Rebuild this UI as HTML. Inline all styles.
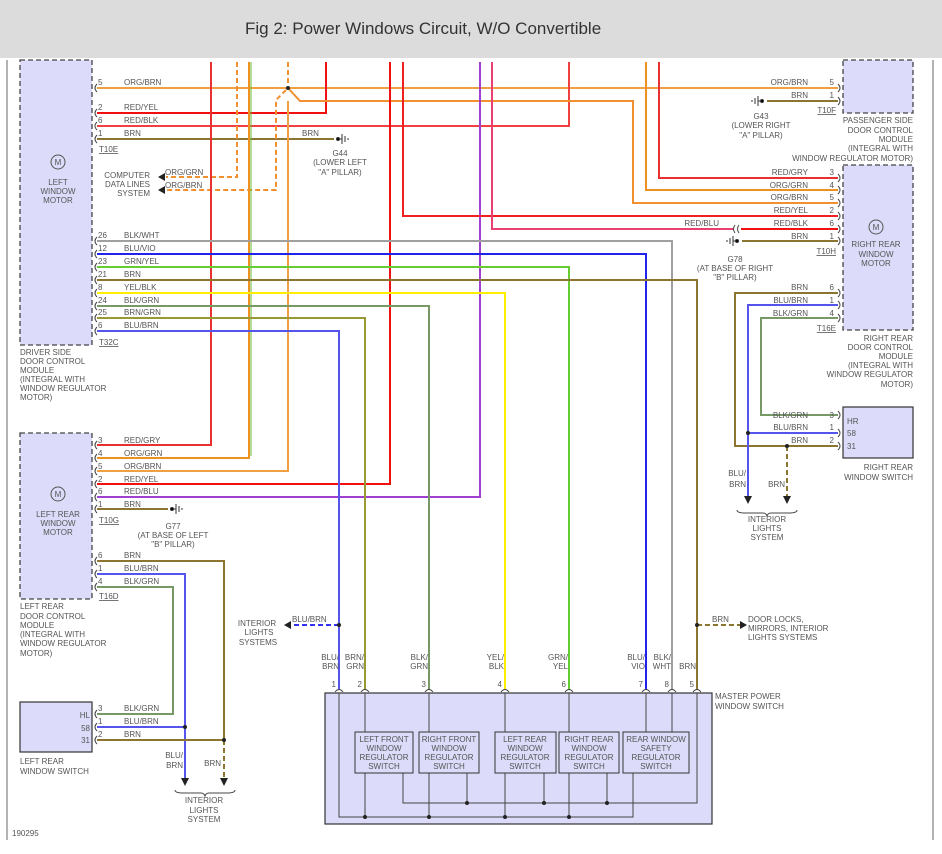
<!DOCTYPE html>
<html><head><meta charset="utf-8"><style>
html,body{margin:0;padding:0;background:#fff;}
svg{display:block;font-family:"Liberation Sans",sans-serif;}
.t{font-size:8px;fill:#555;}
.e{text-anchor:end;}
.m{text-anchor:middle;}
</style></head><body>
<svg width="942" height="854" viewBox="0 0 942 854" xmlns="http://www.w3.org/2000/svg">
<rect x="0" y="0" width="942" height="58" fill="#dcdcdc"/>
<text x="245" y="34" font-size="17" fill="#333">Fig 2: Power Windows Circuit, W/O Convertible</text>
<line x1="7" y1="60" x2="7" y2="840" stroke="#999" stroke-width="1.5"/>
<line x1="933" y1="60" x2="933" y2="840" stroke="#999" stroke-width="1.5"/>

<!-- boxes -->
<g fill="#dcdcfa" stroke="#444" stroke-width="1.3" stroke-dasharray="5,3">
<rect x="20" y="60" width="72" height="285"/>
<rect x="20" y="433" width="72" height="166"/>
<rect x="843" y="60" width="70" height="53"/>
<rect x="843" y="165" width="70" height="165"/>
</g>
<g fill="#dcdcfa" stroke="#333" stroke-width="1.2">
<rect x="20" y="702" width="72" height="50"/>
<rect x="843" y="407" width="70" height="51"/>
<rect x="325" y="693" width="387" height="131"/>
</g>

<!-- motors -->
<g fill="none" stroke="#555" stroke-width="1">
<circle cx="58" cy="162" r="7"/><circle cx="58" cy="494" r="7"/><circle cx="876" cy="227" r="7"/>
</g>
<g class="t m">
<text x="58" y="165">M</text><text x="58" y="497">M</text><text x="876" y="230">M</text>
<text x="58" y="185">LEFT</text><text x="58" y="194">WINDOW</text><text x="58" y="203">MOTOR</text>
<text x="58" y="517">LEFT REAR</text><text x="58" y="526">WINDOW</text><text x="58" y="535">MOTOR</text>
<text x="876" y="247">RIGHT REAR</text><text x="876" y="257">WINDOW</text><text x="876" y="266">MOTOR</text>
</g>

<g fill="none" stroke-width="2">
<!-- driver T10E -->
<path d="M97 88H838" stroke="#f0a040"/>
<path d="M97 113H326V62" stroke="#f01010"/>
<path d="M97 126H569V62" stroke="#f04040"/>
<path d="M97 139H334" stroke="#8b7530"/>
<path d="M288 88L300 101H633V203H838" stroke="#f09030"/>
<!-- dashed orange -->
<path d="M237 62V177H166" stroke="#f09030" stroke-dasharray="5,3"/>
<path d="M288 62V86M286 90L276 100V190H166" stroke="#f09030" stroke-dasharray="5,3"/>
<!-- verticals -->
<path d="M211 62V445H97" stroke="#e83030"/>
<path d="M249 62V458H97" stroke="#f09020"/>
<path d="M251 62V456" stroke="#66bb33" stroke-width="1"/>
<path d="M288 101V471H97" stroke="#f0a040"/>
<path d="M390 62V484H97" stroke="#f01010"/>
<path d="M480 62V497H97" stroke="#a040d0"/>
<path d="M403 62V216H838" stroke="#f02020"/>
<path d="M492 62V229H734" stroke="#e84070"/>
<path d="M741 229H838" stroke="#f01010"/>
<path d="M646 62V190H838" stroke="#f09020"/>
<path d="M659 62V178H838" stroke="#e83030"/>
<path d="M767 101H838" stroke="#8b7530"/>
<path d="M742 241H838" stroke="#8b7530"/>
<path d="M97 509H168" stroke="#8b7530"/>
<!-- T32C -->
<path d="M97 241H672V690" stroke="#a0a0a0"/>
<path d="M97 254H646V690" stroke="#2222ee"/>
<path d="M97 267H569V690" stroke="#66cc33"/>
<path d="M97 280H697V690" stroke="#8b7530"/>
<path d="M97 293H505V690" stroke="#ffee00"/>
<path d="M97 306H429V690" stroke="#779966"/>
<path d="M97 318H365V690" stroke="#999933"/>
<path d="M97 331H339V690" stroke="#5555ee"/>
<!-- left rear T16D -->
<path d="M97 561H224V740" stroke="#8b7530"/>
<path d="M97 574H185V727" stroke="#5555ee"/>
<path d="M97 587H173V714H97" stroke="#779966"/>
<path d="M97 727H185V778" stroke="#5555ee"/>
<path d="M97 740H224" stroke="#8b7530"/>
<path d="M224 740V778" stroke="#8b7530" stroke-dasharray="5,3"/>
<!-- right rear T16E -->
<path d="M838 293H735V446H838" stroke="#8b7530"/>
<path d="M838 305H748V496" stroke="#5555ee"/>
<path d="M838 318H761V415H838" stroke="#779966"/>
<path d="M748 433H838" stroke="#5555ee"/>
<path d="M787 446V496" stroke="#8b7530" stroke-dasharray="5,3"/>
<!-- branch dashed -->
<path d="M339 625H290" stroke="#3333ee" stroke-dasharray="5,3"/>
<path d="M697 625H740" stroke="#8b7530" stroke-dasharray="5,3"/>
</g>

<!-- connector brackets -->
<g fill="none" stroke="#444" stroke-width="1">
<path d="M97 84q-4 4 0 8M97 109q-4 4 0 8M97 122q-4 4 0 8M97 135q-4 4 0 8M97 237q-4 4 0 8M97 250q-4 4 0 8M97 263q-4 4 0 8M97 276q-4 4 0 8M97 289q-4 4 0 8M97 302q-4 4 0 8M97 314q-4 4 0 8M97 327q-4 4 0 8M97 441q-4 4 0 8M97 454q-4 4 0 8M97 467q-4 4 0 8M97 480q-4 4 0 8M97 493q-4 4 0 8M97 505q-4 4 0 8M97 557q-4 4 0 8M97 570q-4 4 0 8M97 583q-4 4 0 8M97 710q-4 4 0 8M97 723q-4 4 0 8M97 736q-4 4 0 8"/>
<path d="M838 84q4 4 0 8M838 97q4 4 0 8M838 174q4 4 0 8M838 186q4 4 0 8M838 199q4 4 0 8M838 212q4 4 0 8M838 225q4 4 0 8M838 237q4 4 0 8M838 289q4 4 0 8M838 301q4 4 0 8M838 314q4 4 0 8M838 411q4 4 0 8M838 429q4 4 0 8M838 442q4 4 0 8"/>
<path d="M735 225q-3 4 0 8M739 225q-3 4 0 8"/>
<path d="M335 692q4-5 8 0M361 692q4-5 8 0M425 692q4-5 8 0M501 692q4-5 8 0M565 692q4-5 8 0M642 692q4-5 8 0M668 692q4-5 8 0M693 692q4-5 8 0"/>
<path d="M175 790q0 3 8 3h18q3 0 4 3q1-3 4-3h18q8 0 8-3"/>
<path d="M737 510q0 3 8 3h18q3 0 4 3q1-3 4-3h18q8 0 8-3"/>
</g>

<!-- master internals -->
<g fill="none" stroke="#444" stroke-width="1">
<path d="M339 693V817H633V773M365 693V732M429 693V732M505 693V732M569 693V732M646 693V732M672 693V732M697 693V803H403V773"/>
<path d="M365 773V817M429 773V817M505 773V817M569 773V817M467 773V803M544 773V803M607 773V803"/>
</g>
<g fill="#dcdcfa" stroke="#333" stroke-width="1">
<rect x="355" y="732" width="58" height="41"/><rect x="419" y="732" width="60" height="41"/>
<rect x="495" y="732" width="61" height="41"/><rect x="559" y="732" width="60" height="41"/>
<rect x="623" y="732" width="66" height="41"/>
</g>
<g fill="#222">
<circle cx="365" cy="817" r="2"/><circle cx="429" cy="817" r="2"/><circle cx="505" cy="817" r="2"/><circle cx="569" cy="817" r="2"/>
<circle cx="467" cy="803" r="2"/><circle cx="544" cy="803" r="2"/><circle cx="607" cy="803" r="2"/>
<circle cx="339" cy="625" r="2"/><circle cx="697" cy="625" r="2"/><circle cx="185" cy="727" r="2"/><circle cx="224" cy="740" r="2"/>
<circle cx="748" cy="433" r="2"/><circle cx="787" cy="446" r="2"/><circle cx="288" cy="88" r="2"/>
<path d="M158 177l7-4v8zM158 190l7-4v8zM284 625l7-4v8zM747 625l-7-4v8zM181 778h8l-4 8zM220 778h8l-4 8zM744 496h8l-4 8zM783 496h8l-4 8z"/>
</g>
<!-- grounds -->
<g stroke="#333" stroke-width="1">
<path d="M338 139h4M342 134v10M345 136v6M348 138v2"/><circle cx="338" cy="139" r="1.5"/>
<path d="M172 509h4M176 504v10M179 506v6M182 508v2"/><circle cx="172" cy="509" r="1.5"/>
<path d="M762 101h-4M758 96v10M755 98v6M752 100v2"/><circle cx="762" cy="101" r="1.5"/>
<path d="M737 241h-4M733 236v10M730 238v6M727 240v2"/><circle cx="737" cy="241" r="1.5"/>
</g>

<g class="t">
<!-- driver labels -->
<text x="98" y="85">5</text><text x="124" y="85">ORG/BRN</text>
<text x="98" y="110">2</text><text x="124" y="110">RED/YEL</text>
<text x="98" y="123">6</text><text x="124" y="123">RED/BLK</text>
<text x="98" y="136">1</text><text x="124" y="136">BRN</text>
<text x="302" y="136">BRN</text>
<text x="99" y="152" text-decoration="underline">T10E</text>
<text x="98" y="238">26</text><text x="124" y="238">BLK/WHT</text>
<text x="98" y="251">12</text><text x="124" y="251">BLU/VIO</text>
<text x="98" y="264">23</text><text x="124" y="264">GRN/YEL</text>
<text x="98" y="277">21</text><text x="124" y="277">BRN</text>
<text x="98" y="290">8</text><text x="124" y="290">YEL/BLK</text>
<text x="98" y="303">24</text><text x="124" y="303">BLK/GRN</text>
<text x="98" y="315">25</text><text x="124" y="315">BRN/GRN</text>
<text x="98" y="328">6</text><text x="124" y="328">BLU/BRN</text>
<text x="99" y="345" text-decoration="underline">T32C</text>
<text x="20" y="355">DRIVER SIDE</text><text x="20" y="364">DOOR CONTROL</text><text x="20" y="373">MODULE</text><text x="20" y="382">(INTEGRAL WITH</text><text x="20" y="391">WINDOW REGULATOR</text><text x="20" y="400">MOTOR)</text>
<text x="165" y="175">ORG/GRN</text><text x="165" y="188">ORG/BRN</text>
<text class="e" x="150" y="178">COMPUTER</text><text class="e" x="150" y="187">DATA LINES</text><text class="e" x="150" y="196">SYSTEM</text>
<text class="m" x="340" y="156">G44</text><text class="m" x="340" y="165">(LOWER LEFT</text><text class="m" x="340" y="175">"A" PILLAR)</text>
<!-- left rear -->
<text x="98" y="443">3</text><text x="124" y="443">RED/GRY</text>
<text x="98" y="456">4</text><text x="124" y="456">ORG/GRN</text>
<text x="98" y="469">5</text><text x="124" y="469">ORG/BRN</text>
<text x="98" y="482">2</text><text x="124" y="482">RED/YEL</text>
<text x="98" y="494">6</text><text x="124" y="494">RED/BLU</text>
<text x="98" y="507">1</text><text x="124" y="507">BRN</text>
<text x="99" y="523" text-decoration="underline">T10G</text>
<text class="m" x="173" y="529">G77</text><text class="m" x="173" y="538">(AT BASE OF LEFT</text><text class="m" x="173" y="547">"B" PILLAR)</text>
<text x="98" y="558">6</text><text x="124" y="558">BRN</text>
<text x="98" y="571">1</text><text x="124" y="571">BLU/BRN</text>
<text x="98" y="584">4</text><text x="124" y="584">BLK/GRN</text>
<text x="99" y="599" text-decoration="underline">T16D</text>
<text x="20" y="609">LEFT REAR</text><text x="20" y="619">DOOR CONTROL</text><text x="20" y="628">MODULE</text><text x="20" y="637">(INTEGRAL WITH</text><text x="20" y="646">WINDOW REGULATOR</text><text x="20" y="656">MOTOR)</text>
<text x="98" y="711">3</text><text x="124" y="711">BLK/GRN</text>
<text x="98" y="724">1</text><text x="124" y="724">BLU/BRN</text>
<text x="98" y="737">2</text><text x="124" y="737">BRN</text>
<text class="e" x="90" y="718">HL</text><text class="e" x="90" y="731">58</text><text class="e" x="90" y="743">31</text>
<text x="20" y="764">LEFT REAR</text><text x="20" y="774">WINDOW SWITCH</text>
<text class="e" x="183" y="758">BLU/</text><text class="e" x="183" y="768">BRN</text><text class="e" x="221" y="766">BRN</text>
<text class="m" x="204" y="803">INTERIOR</text><text class="m" x="204" y="813">LIGHTS</text><text class="m" x="204" y="822">SYSTEM</text>
<text x="12" y="836">190295</text>
<!-- interior lights left -->
<text class="m" x="257" y="626">INTERIOR</text><text class="m" x="259" y="635">LIGHTS</text><text class="m" x="258" y="645">SYSTEMS</text>
<text x="292" y="622">BLU/BRN</text>
<text x="712" y="622">BRN</text>
<text x="748" y="622">DOOR LOCKS,</text><text x="748" y="631">MIRRORS, INTERIOR</text><text x="748" y="640">LIGHTS SYSTEMS</text>
<!-- master labels -->
<text class="e" x="339" y="660">BLU/</text><text class="e" x="339" y="669">BRN</text>
<text class="e" x="364" y="660">BRN/</text><text class="e" x="364" y="669">GRN</text>
<text class="e" x="428" y="660">BLK/</text><text class="e" x="428" y="669">GRN</text>
<text class="e" x="504" y="660">YEL/</text><text class="e" x="504" y="669">BLK</text>
<text class="e" x="568" y="660">GRN/</text><text class="e" x="568" y="669">YEL</text>
<text class="e" x="645" y="660">BLU/</text><text class="e" x="645" y="669">VIO</text>
<text class="e" x="671" y="660">BLK/</text><text class="e" x="671" y="669">WHT</text>
<text class="e" x="696" y="669">BRN</text>
<text class="e" x="336" y="687">1</text><text class="e" x="362" y="687">2</text><text class="e" x="426" y="687">3</text><text class="e" x="502" y="687">4</text><text class="e" x="566" y="687">6</text><text class="e" x="643" y="687">7</text><text class="e" x="669" y="687">8</text><text class="e" x="694" y="687">5</text>
<text x="715" y="699">MASTER POWER</text><text x="715" y="709">WINDOW SWITCH</text>
<g class="m">
<text x="384" y="742">LEFT FRONT</text><text x="384" y="751">WINDOW</text><text x="384" y="760">REGULATOR</text><text x="384" y="769">SWITCH</text>
<text x="449" y="742">RIGHT FRONT</text><text x="449" y="751">WINDOW</text><text x="449" y="760">REGULATOR</text><text x="449" y="769">SWITCH</text>
<text x="525" y="742">LEFT REAR</text><text x="525" y="751">WINDOW</text><text x="525" y="760">REGULATOR</text><text x="525" y="769">SWITCH</text>
<text x="589" y="742">RIGHT REAR</text><text x="589" y="751">WINDOW</text><text x="589" y="760">REGULATOR</text><text x="589" y="769">SWITCH</text>
<text x="656" y="742">REAR WINDOW</text><text x="656" y="751">SAFETY</text><text x="656" y="760">REGULATOR</text><text x="656" y="769">SWITCH</text>
</g>
<!-- right side -->
<text class="e" x="808" y="85">ORG/BRN</text><text class="e" x="834" y="85">5</text>
<text class="e" x="808" y="98">BRN</text><text class="e" x="834" y="98">1</text>
<text class="e" x="836" y="113" text-decoration="underline">T10F</text>
<text class="m" x="761" y="119">G43</text><text class="m" x="761" y="128">(LOWER RIGHT</text><text class="m" x="761" y="138">"A" PILLAR)</text>
<text class="e" x="913" y="123">PASSENGER SIDE</text><text class="e" x="913" y="133">DOOR CONTROL</text><text class="e" x="913" y="142">MODULE</text><text class="e" x="913" y="151">(INTEGRAL WITH</text><text class="e" x="913" y="161">WINDOW REGULATOR MOTOR)</text>
<text class="e" x="808" y="175">RED/GRY</text><text class="e" x="834" y="175">3</text>
<text class="e" x="808" y="188">ORG/GRN</text><text class="e" x="834" y="188">4</text>
<text class="e" x="808" y="200">ORG/BRN</text><text class="e" x="834" y="200">5</text>
<text class="e" x="808" y="213">RED/YEL</text><text class="e" x="834" y="213">2</text>
<text class="e" x="808" y="226">RED/BLK</text><text class="e" x="834" y="226">6</text>
<text class="e" x="719" y="226">RED/BLU</text>
<text class="e" x="808" y="239">BRN</text><text class="e" x="834" y="239">1</text>
<text class="e" x="836" y="254" text-decoration="underline">T10H</text>
<text class="m" x="735" y="262">G78</text><text class="m" x="735" y="271">(AT BASE OF RIGHT</text><text class="m" x="735" y="280">"B" PILLAR)</text>
<text class="e" x="808" y="290">BRN</text><text class="e" x="834" y="290">6</text>
<text class="e" x="808" y="303">BLU/BRN</text><text class="e" x="834" y="303">1</text>
<text class="e" x="808" y="316">BLK/GRN</text><text class="e" x="834" y="316">4</text>
<text class="e" x="836" y="331" text-decoration="underline">T16E</text>
<text class="e" x="913" y="341">RIGHT REAR</text><text class="e" x="913" y="350">DOOR CONTROL</text><text class="e" x="913" y="359">MODULE</text><text class="e" x="913" y="368">(INTEGRAL WITH</text><text class="e" x="913" y="377">WINDOW REGULATOR</text><text class="e" x="913" y="387">MOTOR)</text>
<text class="e" x="808" y="418">BLK/GRN</text><text class="e" x="834" y="418">3</text>
<text class="e" x="808" y="430">BLU/BRN</text><text class="e" x="834" y="430">1</text>
<text class="e" x="808" y="443">BRN</text><text class="e" x="834" y="443">2</text>
<text x="847" y="424">HR</text><text x="847" y="436">58</text><text x="847" y="449">31</text>
<text class="e" x="913" y="470">RIGHT REAR</text><text class="e" x="913" y="480">WINDOW SWITCH</text>
<text class="e" x="746" y="476">BLU/</text><text class="e" x="746" y="487">BRN</text><text class="e" x="785" y="487">BRN</text>
<text class="m" x="767" y="522">INTERIOR</text><text class="m" x="767" y="531">LIGHTS</text><text class="m" x="767" y="540">SYSTEM</text>
</g>
</svg>
</body></html>
